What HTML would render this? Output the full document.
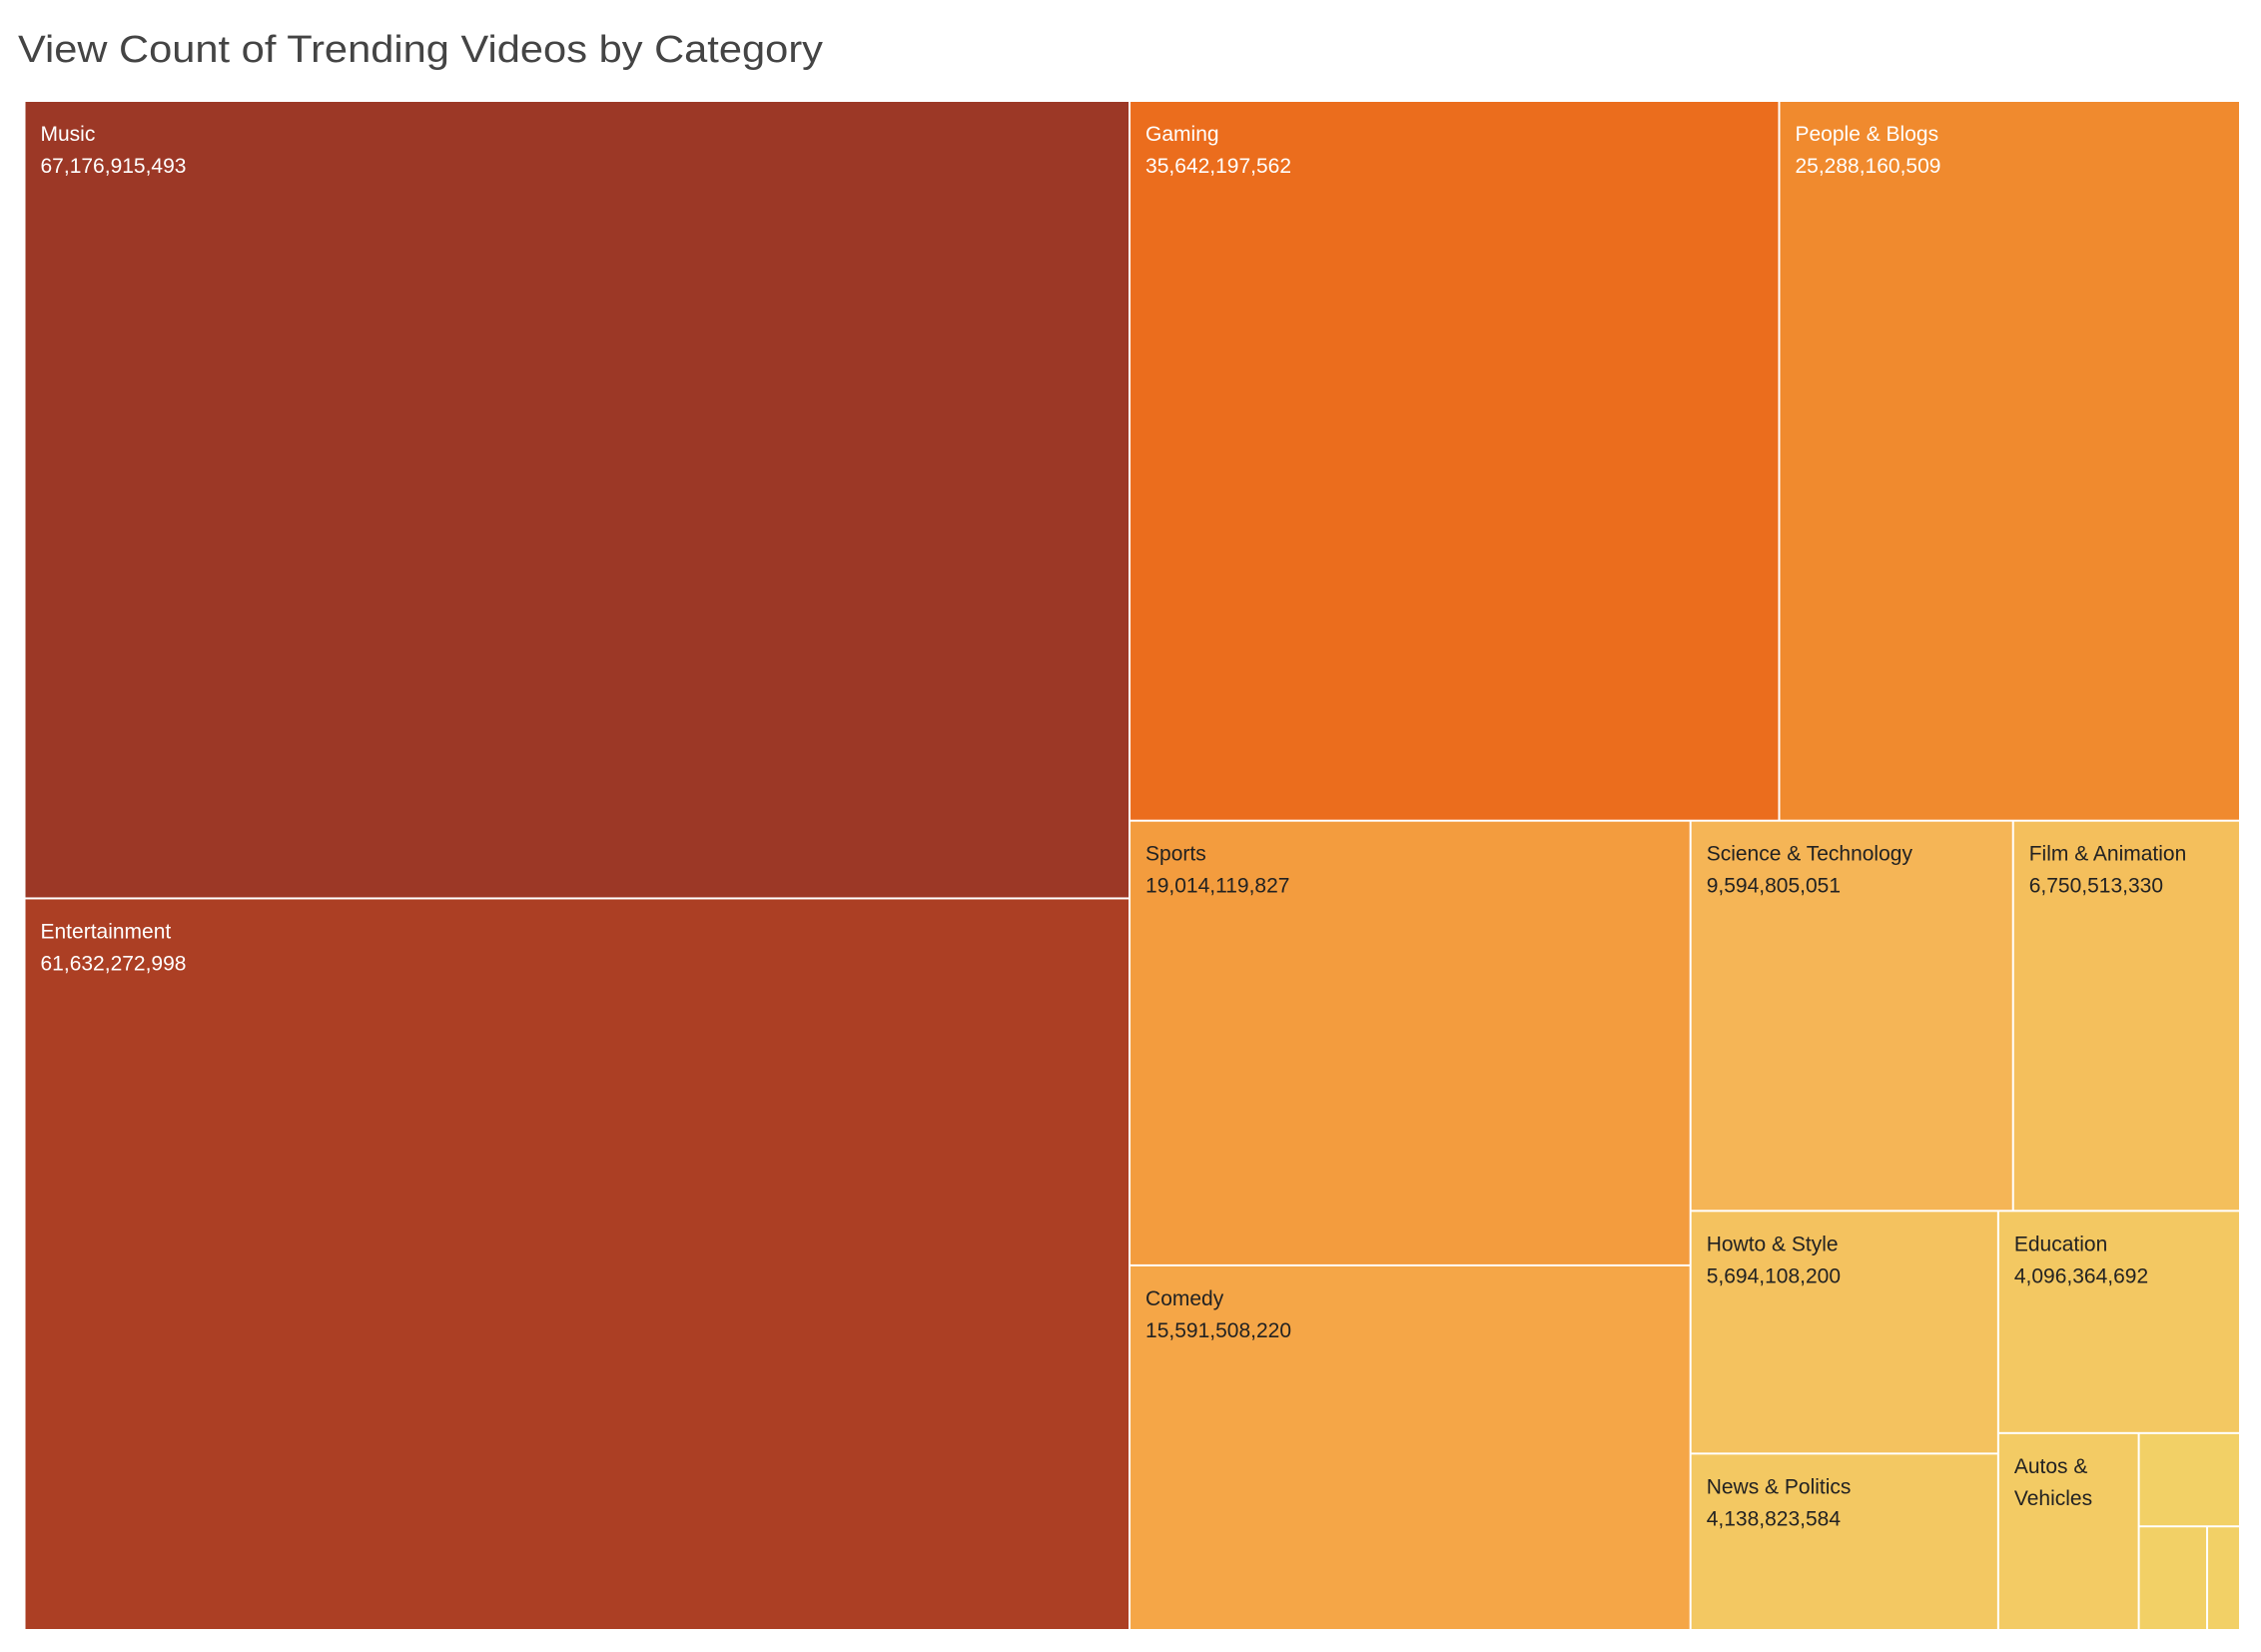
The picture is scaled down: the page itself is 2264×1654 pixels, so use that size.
<!DOCTYPE html>
<html><head><meta charset="utf-8"><style>
html,body{margin:0;padding:0;background:#fff;}
svg{display:block;}
</style></head><body>
<svg id="chart" width="2264" height="1654" viewBox="0 0 2264 1654" xmlns="http://www.w3.org/2000/svg">
<text x="18" y="62" font-family="Liberation Sans, sans-serif" font-size="38" fill="#444" textLength="806" lengthAdjust="spacingAndGlyphs">View Count of Trending Videos by Category</text>
<g id="cells"></g>
</svg>
<script>
const categories = ["Music","Entertainment","Gaming","People & Blogs","Sports","Comedy","Science & Technology","Film & Animation","Howto & Style","News & Politics","Education","Autos & Vehicles","Travel & Events","Pets & Animals","Nonprofits & Activism"];
const views = [67176915493,61632272998,35642197562,25288160509,19014119827,15591508220,9594805051,6750513330,5694108200,4138823584,4096364692,2110000000,720000000,540000000,260000000];
const fills = ["#9C3826","#AC3F24","#EB6D1D","#F08A2E","#F39C3E","#F5A647","#F5B556","#F4BF5C","#F4C25F","#F3C862","#F3C862","#F3CB64","#F2D066","#F2D066","#F2D066"];
const darkText = [true,true,true,true,false,false,false,false,false,false,false,false,false,false,false];

// layout tree (indices + split direction): 'x' splits width, 'y' splits height
const tree = {d:'x', c:[
  {d:'y', c:[0,1]},
  {d:'y', c:[
    {d:'x', c:[2,3]},
    {d:'x', c:[
      {d:'y', c:[4,5]},
      {d:'y', c:[
        {d:'x', c:[6,7]},
        {d:'x', c:[
          {d:'y', c:[8,9]},
          {d:'y', c:[10,
            {d:'x', c:[11,
              {d:'y', c:[12, {d:'x', c:[13,14]}]}
            ]}
          ]}
        ]}
      ]}
    ]}
  ]}
]};

const X0=24.5, Y0=101, W=2218.5, H=1531;
const NS="http://www.w3.org/2000/svg";
const g=document.getElementById('cells');
function total(n){return typeof n==='number'?views[n]:n.c.reduce((s,k)=>s+total(k),0);}
function fmt(v){return v.toLocaleString('en-US');}
function layout(n,x,y,w,h){
  if(typeof n==='number'){draw(n,x,y,w,h);return;}
  const t=total(n); let off=0;
  n.c.forEach(k=>{
    const f=total(k)/t;
    if(n.d==='x'){layout(k,x+off,y,w*f,h);off+=w*f;}
    else{layout(k,x,y+off,w,h*f);off+=h*f;}
  });
}
function draw(i,x,y,w,h){
  const r=document.createElementNS(NS,'rect');
  r.setAttribute('x',x+1);r.setAttribute('y',y+1);
  r.setAttribute('width',Math.max(0,w-2));r.setAttribute('height',Math.max(0,h-2));
  r.setAttribute('fill',fills[i]);
  
  
  g.appendChild(r);
  if(w<120||h<60)return;
  const col=darkText[i]?'#fff':'#222';
  let lines = w<200 ? categories[i].replace(' & ',' &\n').split('\n') : [categories[i], fmt(views[i])];
  lines.forEach((s,j)=>{
    const t=document.createElementNS(NS,'text');
    t.setAttribute('x',x+16);t.setAttribute('y',y+40+j*32);
    t.setAttribute('font-family','Liberation Sans, sans-serif');
    t.setAttribute('font-size','21');t.setAttribute('fill',col);
    t.textContent=s;
    
    
    g.appendChild(t);
  });
}
layout(tree,X0,Y0,W,H);
</script>
</body></html>
